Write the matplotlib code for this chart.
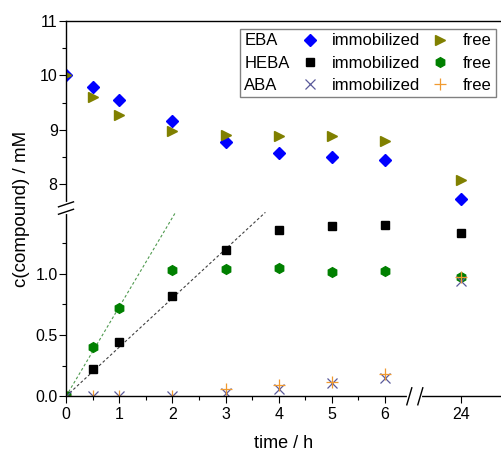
import matplotlib
matplotlib.use("Agg")
import matplotlib.pyplot as plt
from matplotlib.lines import Line2D
import numpy as np

plt.rcParams['font.family'] = ['Liberation Sans', 'DejaVu Sans']

# data
time_h = [0, 0.5, 1, 2, 3, 4, 5, 6, 24]
eba_imm = [10.0, 9.78, 9.55, 9.17, 8.78, 8.57, 8.50, 8.45, 7.73]
eba_free = [10.0, 9.60, 9.28, 8.97, 8.91, 8.88, 8.88, 8.80, 8.08]
heba_imm = [0.0, 0.22, 0.44, 0.82, 1.19, 1.36, 1.39, 1.40, 1.33]
heba_free = [0.0, 0.40, 0.72, 1.03, 1.04, 1.05, 1.01, 1.02, 0.97]
aba_imm = [0.0, 0.0, 0.0, 0.0, 0.03, 0.06, 0.11, 0.15, 0.94]
aba_free = [0.0, 0.0, 0.0, 0.0, 0.06, 0.09, 0.12, 0.18, 0.97]

# initial-rate lines (HEBA)
fit_free_t = [0, 2.06]
fit_free_c = [0, 1.50]
fit_imm_t = [0, 3.75]
fit_imm_c = [0, 1.50]

x_ticks = [0, 1, 2, 3, 4, 5, 6, 24]
x_minor = [0.5, 1.5, 2.5, 3.5, 4.5, 5.5]
y_ticks = [0.0, 0.5, 1.0, 8, 9, 10, 11]
y_ticklabels = ['0.0', '0.5', '1.0', '8', '9', '10', '11']
y_minor = [0.25, 0.75, 1.25, 8.5, 9.5, 10.5]

# broken axes as piecewise linear scales
X_B1, X_B2 = 6.56, 23.13
Y_B1, Y_B2, Y_K = 1.535, 7.56, 0.4434


def x_fwd(x):
    x = np.asarray(x, float)
    return np.where(x <= X_B1, x, X_B1 + np.clip(x - X_B2, 0, None))


def x_inv(u):
    u = np.asarray(u, float)
    return np.where(u <= X_B1, u, X_B2 + (u - X_B1))


def y_fwd(y):
    y = np.asarray(y, float)
    return np.where(y <= Y_B1, y, Y_B1 + np.clip(y - Y_B2, 0, None) * Y_K)


def y_inv(u):
    u = np.asarray(u, float)
    return np.where(u <= Y_B1, u, Y_B2 + (u - Y_B1) / Y_K)


fig = plt.figure(figsize=(5.02, 4.53), dpi=100)
W, H = 436.0, 375.3
ax = fig.add_axes([66 / 502, 1 - 396.3 / 453, W / 502, H / 453])
ax.set_xscale('function', functions=(x_fwd, x_inv))
ax.set_yscale('function', functions=(y_fwd, y_inv))
ax.set_xlim(0, 24.77)
ax.set_ylim(0, 11)

ax.plot(fit_free_t, fit_free_c, ls=(0, (2.5, 2)), color='#4f9a4f', lw=0.8)
ax.plot(fit_imm_t, fit_imm_c, ls=(0, (2.5, 2)), color='#404040', lw=0.8)

st = dict(ls='none')
h_heba_imm, = ax.plot(time_h, heba_imm, marker='s', ms=5.5, color='black', **st)
h_heba_free, = ax.plot(time_h, heba_free, marker='h', ms=7, color='#008000', **st)
h_aba_imm, = ax.plot(time_h, aba_imm, marker='x', ms=6.5, mew=0.9, color='#5a5a9a', **st)
h_aba_free, = ax.plot(time_h, aba_free, marker='+', ms=9, mew=0.9, color='#f09a30', **st)
h_eba_imm, = ax.plot(time_h, eba_imm, marker='D', ms=6.5, color='#0000ff', **st)
h_eba_free, = ax.plot(time_h, eba_free, marker='>', ms=7.5, color='#808000', **st)

ax.set_xticks(x_ticks)
ax.set_xticklabels([str(t) for t in x_ticks])
ax.set_xticks(x_minor, minor=True)
ax.set_yticks(y_ticks)
ax.set_yticklabels(y_ticklabels)
ax.set_yticks(y_minor, minor=True)
ax.tick_params(which='both', direction='out', width=0.8, labelsize=11.5)
ax.tick_params(which='major', length=5)
ax.tick_params(which='minor', length=3)
ax.tick_params(axis='y', which='major', pad=1.0)
ax.tick_params(axis='x', which='major', pad=2.7)

ax.spines['right'].set_visible(False)
for s in ['left', 'bottom', 'top']:
    ax.spines[s].set_linewidth(1.0)

ax.set_xlabel('time / h', fontsize=13, labelpad=9.5)
ax.set_ylabel('c(compound) / mM', fontsize=13.5, labelpad=4)

# break marks
yb = Y_B1 / float(y_fwd(11))
gy = 3.7 / H
ax.plot([0, 0], [yb - gy, yb + gy], color='white', lw=3, transform=ax.transAxes, clip_on=False, zorder=5)
for yc in (yb - gy, yb + gy):
    ax.plot([-7.5 / W, 7.5 / W], [yc - 2.5 / H, yc + 2.5 / H], color='black', lw=1.0,
            transform=ax.transAxes, clip_on=False, zorder=6)
xb = X_B1 / float(x_fwd(24.77))
gx = 5.5 / W
ax.plot([xb - gx, xb + gx], [0, 0], color='white', lw=3, transform=ax.transAxes, clip_on=False, zorder=5)
for xc in (xb - gx, xb + gx):
    ax.plot([xc - 2.5 / W, xc + 2.5 / W], [-8.5 / H, 8.5 / H], color='black', lw=1.0,
            transform=ax.transAxes, clip_on=False, zorder=6)

# legend: names | immobilized | free
blank = Line2D([], [], ls='none')
handles = [blank, blank, blank,
           h_eba_imm, h_heba_imm, h_aba_imm,
           h_eba_free, h_heba_free, h_aba_free]
labels = ['EBA', 'HEBA', 'ABA'] + ['immobilized'] * 3 + ['free'] * 3
leg = ax.legend(handles, labels, ncol=3, loc='upper right',
                bbox_to_anchor=(0.9856, 0.978), borderaxespad=0,
                fontsize=12, handlelength=1.0, handletextpad=0.85,
                columnspacing=0.7, labelspacing=0.43, borderpad=0.25,
                fancybox=False, edgecolor='#808080', framealpha=1)
leg.get_frame().set_linewidth(1.0)
# drop the empty handle slot in the name column
for row in leg._legend_handle_box.get_children()[0].get_children():
    row.get_children().pop(0)

fig.savefig('out.png', dpi=100)
